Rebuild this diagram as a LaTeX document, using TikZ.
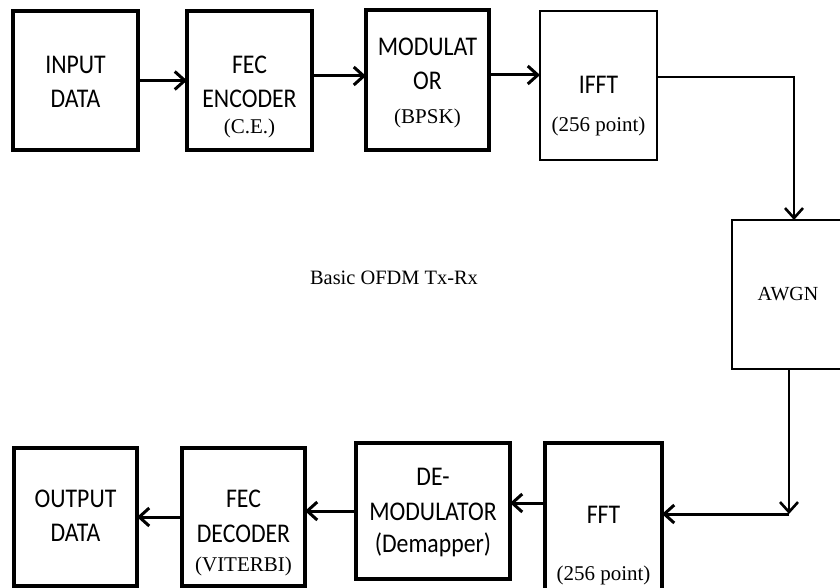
\documentclass[tikz,border=0pt]{standalone}
\usepackage{fontspec}
\usepackage{tikz}
\usetikzlibrary{arrows.meta}
\newfontfamily\boxfont[FakeStretch=0.88]{Carlito}
\newfontfamily\serfont{Liberation Serif}
\newcommand{\ser}[1]{{\serfont\fontsize{21}{34}\selectfont #1}}

\begin{document}
\begin{tikzpicture}[x=1pt, y=-1pt,
    blk/.style={draw, line width=3.2pt, inner sep=0pt, outer sep=0pt},
    thinblk/.style={draw, line width=2.6pt, inner sep=0pt, outer sep=0pt},
    txt/.style={inner sep=0pt, align=center, anchor=north, font=\boxfont\fontsize{27}{34}\selectfont},
    arr/.style={line width=3pt, -{Straight Barb[length=10pt, width=18pt]}}]
    \useasboundingbox (0,0) rectangle (840,588);
    \clip (0,0) rectangle (840,588);

    % Transmitter blocks
    \node[blk, minimum width=125pt, minimum height=139pt] (in) at (75.5, 80.5) {};
    \node[txt] (intext) at (75.5, 55.6) {INPUT\\DATA};
    \node[blk, minimum width=125pt, minimum height=139pt] (enc) at (249.5, 80.5) {};
    \node[txt] (enctext) at (249.5, 55.6) {FEC\\ENCODER\\[-8pt]\ser{(C.E.)}};
    \node[blk, minimum width=123pt, minimum height=140pt] (mod) at (427.5, 80) {};
    \node[txt] (modtext) at (427.5, 37.6) {MODULAT\\OR\\\ser{(BPSK)}};
    \node[thinblk, minimum width=117pt, minimum height=149pt] (ifft) at (598.5, 85.5) {};
    \node[txt] (iffttext) at (598.5, 75.6) {IFFT\\[4pt]\ser{(256 point)}};

    % Channel
    \node[thinblk, minimum width=112pt, minimum height=149pt] (awgn) at (788, 294.5) {};
    \node[anchor=base, inner sep=0pt, font=\serfont\fontsize{20}{24}\selectfont] (awgntext) at (788, 300) {AWGN};
    \node[anchor=base, inner sep=0pt, font=\serfont\fontsize{20.4}{24}\selectfont] (title) at (394, 284) {Basic OFDM Tx-Rx};

    % Receiver blocks
    \node[blk, minimum width=117pt, minimum height=157pt] (fft) at (603.5, 521.5) {};
    \node[txt] (ffttext) at (603.5, 505.6) {FFT\\[23pt]\ser{(256 point)}};
    \node[blk, minimum width=154pt, minimum height=136pt] (demod) at (433, 511) {};
    \node[txt] (demodtext) at (433, 467.6) {DE-\\[1pt]MODULATOR\\[-2pt](Demapper)};
    \node[blk, minimum width=123pt, minimum height=138pt] (dec) at (243.5, 517) {};
    \node[txt] (dectext) at (243.5, 489.6) {FEC\\[1pt]DECODER\\[-5pt]\ser{(VITERBI)}};
    \node[blk, minimum width=123pt, minimum height=138pt] (out) at (75.5, 517) {};
    \node[txt] (outtext) at (75.5, 489.6) {OUTPUT\\DATA};

    % Arrows
    \coordinate (turn) at (789, 514);
    \draw[arr] (in.east) -- (enc.west);
    \draw[arr] ([yshift=4.5pt]enc.east) -- ([yshift=4.5pt]enc.east -| mod.west);
    \draw[arr] ([yshift=5pt]mod.east) -- ([yshift=5pt]mod.east -| ifft.west);
    \draw[arr, line width=2.6pt] ([yshift=8.5pt]ifft.east) -| ([xshift=6pt]awgn.north);
    \draw[arr, line width=2.6pt] (awgn.south -| turn) -- (turn);
    \draw[arr] (turn) -- (turn -| fft.east);
    \draw[arr] ([yshift=8pt]demod.east -| fft.west) -- ([yshift=8pt]demod.east);
    \draw[arr] (demod.west) -- (demod.west -| dec.east);
    \draw[arr] (dec.west) -- (out.east);

\end{tikzpicture}
\end{document}
